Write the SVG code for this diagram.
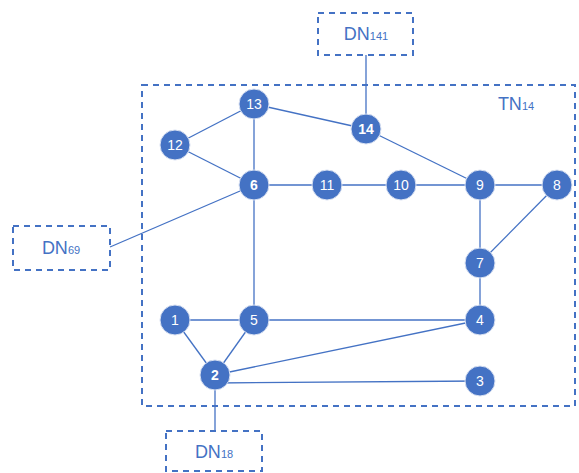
<svg xmlns="http://www.w3.org/2000/svg" width="579" height="473" viewBox="0 0 579 473">
<style>
.box{fill:none;stroke:#4472C4;stroke-width:2;stroke-dasharray:6,5}
.e{stroke:#4472C4;stroke-width:1.3;fill:none}
.n circle{fill:#4472C4;stroke:#D9E1F2;stroke-width:1}
.n text{fill:#fff;font-family:"Liberation Sans","Open Sans",sans-serif;font-size:14px;text-anchor:middle;dominant-baseline:central}
.n text.b{font-weight:bold}
.lbl{fill:#4472C4;font-family:"Liberation Sans","Open Sans",sans-serif;font-size:18px;text-anchor:middle}
.sub{font-size:11px}
</style>
<rect width="579" height="473" fill="#fff"/>
<g id="TN14"><rect class="box" x="142" y="85" width="433" height="321"/><text class="lbl" x="516" y="110">TN<tspan class="sub">14</tspan></text></g>
<g id="DN141"><rect class="box" x="318" y="13" width="95" height="42"/><text class="lbl" x="366" y="40">DN<tspan class="sub">141</tspan></text></g>
<g id="DN69"><rect class="box" x="13" y="226" width="97" height="44"/><text class="lbl" x="61" y="254">DN<tspan class="sub">69</tspan></text></g>
<g id="DN18"><rect class="box" x="166" y="431" width="96" height="40"/><text class="lbl" x="214" y="458">DN<tspan class="sub">18</tspan></text></g>
<g id="connectors">
<line class="e" x1="254" y1="104" x2="175" y2="145"/>
<line class="e" x1="254" y1="104" x2="254" y2="185"/>
<line class="e" x1="254" y1="104" x2="366" y2="129"/>
<line class="e" x1="366" y1="129" x2="480" y2="185"/>
<line class="e" x1="175" y1="145" x2="254" y2="185"/>
<line class="e" x1="254" y1="185" x2="557" y2="185"/>
<line class="e" x1="480" y1="185" x2="480" y2="263"/>
<line class="e" x1="557" y1="185" x2="480" y2="263"/>
<line class="e" x1="480" y1="263" x2="480" y2="320"/>
<line class="e" x1="254" y1="185" x2="254" y2="320"/>
<line class="e" x1="254" y1="185" x2="110" y2="247"/>
<line class="e" x1="175" y1="320" x2="480" y2="320"/>
<line class="e" x1="175" y1="320" x2="215" y2="375"/>
<line class="e" x1="254" y1="320" x2="215" y2="375"/>
<line class="e" x1="215" y1="375" x2="480" y2="320"/>
<line class="e" x1="215" y1="383" x2="480" y2="381"/>
<line class="e" x1="215" y1="375" x2="215" y2="431"/>
<line class="e" x1="366" y1="129" x2="366" y2="55"/>
</g>
<g id="n13" class="n"><circle cx="254" cy="104" r="15"/><text x="254" y="104">13</text></g>
<g id="n12" class="n"><circle cx="175" cy="145" r="15"/><text x="175" y="145">12</text></g>
<g id="n6" class="n"><circle cx="254" cy="185" r="15"/><text class="b" x="254" y="185">6</text></g>
<g id="n11" class="n"><circle cx="327" cy="185" r="15"/><text x="327" y="185">11</text></g>
<g id="n10" class="n"><circle cx="401" cy="185" r="15"/><text x="401" y="185">10</text></g>
<g id="n9" class="n"><circle cx="480" cy="185" r="15"/><text x="480" y="185">9</text></g>
<g id="n8" class="n"><circle cx="557" cy="185" r="15"/><text x="557" y="185">8</text></g>
<g id="n14" class="n"><circle cx="366" cy="129" r="15"/><text class="b" x="366" y="129">14</text></g>
<g id="n7" class="n"><circle cx="480" cy="263" r="15"/><text x="480" y="263">7</text></g>
<g id="n4" class="n"><circle cx="480" cy="320" r="15"/><text x="480" y="320">4</text></g>
<g id="n5" class="n"><circle cx="254" cy="320" r="15"/><text x="254" y="320">5</text></g>
<g id="n1" class="n"><circle cx="175" cy="320" r="15"/><text x="175" y="320">1</text></g>
<g id="n2" class="n"><circle cx="215" cy="375" r="15"/><text class="b" x="215" y="375">2</text></g>
<g id="n3" class="n"><circle cx="480" cy="381" r="15"/><text x="480" y="381">3</text></g>
</svg>
